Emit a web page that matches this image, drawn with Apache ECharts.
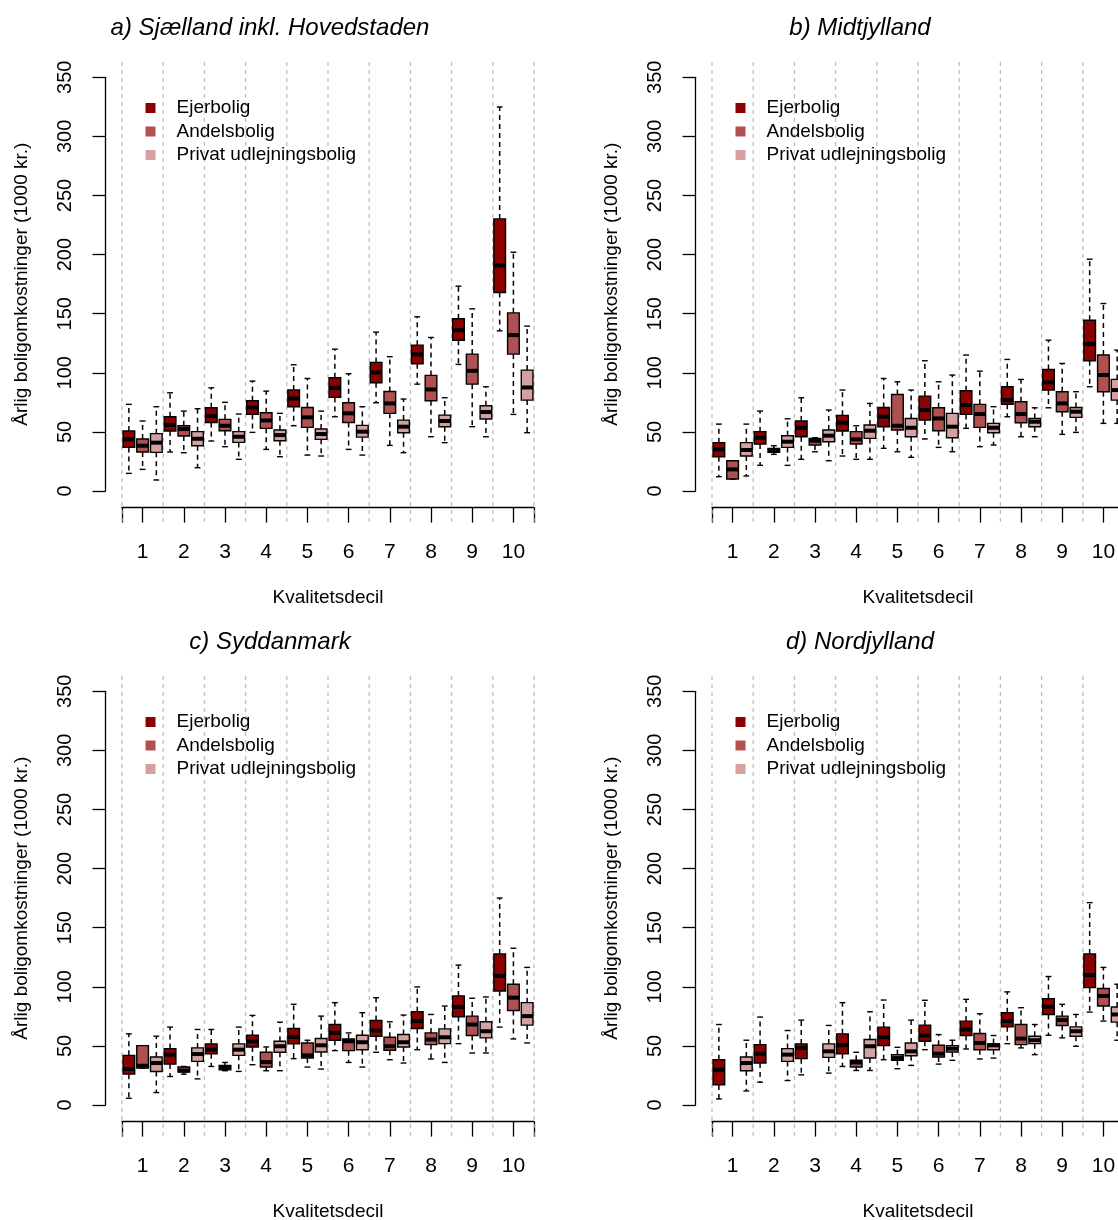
<!DOCTYPE html>
<html><head><meta charset="utf-8">
<script src="https://cdn.jsdelivr.net/npm/echarts@6/dist/echarts.min.js"></script>
<style>html,body{margin:0;padding:0;background:#fff}#c{width:1118px;height:1220px}</style>
</head><body><div id="c"></div>
<script>
// ---------- DATA ----------
const deciles = ['1','2','3','4','5','6','7','8','9','10'];
const housingTypes = ['Ejerbolig', 'Andelsbolig', 'Privat udlejningsbolig'];
const panelTitles = ['a) Sjælland inkl. Hovedstaden', 'b) Midtjylland', 'c) Syddanmark', 'd) Nordjylland'];
const yTickValues = [0, 50, 100, 150, 200, 250, 300, 350];
const xTitle = 'Kvalitetsdecil';
const yTitle = 'Årlig boligomkostninger (1000 kr.)';

// each entry: [lower whisker, Q1, median, Q3, upper whisker] per decile
const sjaellandEjer = [[14.9,36.9,43.7,50.7,73.3],[33.0,50.7,55.8,62.8,83.1],[42.3,58.0,63.4,70.4,87.3],[49.6,64.8,70.7,76.4,93.0],[55.2,71.3,78.3,85.4,106.8],[62.8,79.2,87.3,95.8,120.0],[74.7,91.6,100.3,108.8,134.4],[90.4,107.6,115.5,123.4,147.4],[107.1,127.6,136.1,145.7,173.3],[135.5,167.9,190.8,230.2,324.9]];
const sjaellandAndel = [[18.3,33.0,38.3,44.0,59.2],[32.4,46.5,52.4,55.2,67.6],[37.5,51.0,55.2,60.6,75.0],[35.2,53.0,59.7,66.2,84.5],[30.4,53.8,62.3,70.7,95.2],[35.2,58.0,65.7,74.7,99.2],[38.6,65.7,74.1,84.2,113.6],[45.9,76.4,85.9,97.8,129.9],[54.4,90.4,101.7,115.8,154.1],[64.8,115.8,131.9,150.7,202.0]];
const sjaellandPrivat = [[9.3,32.7,40.9,48.5,71.3],[19.7,38.3,44.2,50.2,69.6],[26.8,41.1,45.9,50.2,65.1],[29.0,42.5,47.3,51.6,65.7],[29.6,43.7,48.2,52.4,67.6],[30.4,45.6,50.2,55.5,71.3],[32.4,49.3,54.4,60.0,77.8],[40.9,54.4,59.2,64.2,78.9],[45.9,60.9,66.8,72.1,88.2],[49.3,76.9,87.6,102.3,139.5]];

const midtEjer = [[12.1,29.0,35.2,40.9,56.6],[21.7,39.7,45.1,50.2,67.6],[26.8,45.9,53.5,59.2,78.9],[29.6,50.7,57.8,64.0,85.4],[36.1,54.4,62.8,70.7,95.2],[44.0,60.0,68.5,80.3,110.2],[53.0,64.8,72.7,84.8,115.0],[62.8,73.3,76.9,88.2,111.3],[70.4,85.4,91.9,102.8,127.6],[88.2,110.2,124.3,144.5,196.1]];
const midtAndel = [[10.1,10.1,18.3,25.6,25.6],[31.0,32.7,34.1,36.1,38.3],[33.2,38.9,42.5,44.5,45.1],[26.8,39.7,43.7,50.2,55.2],[33.2,51.6,55.2,81.7,92.4],[36.9,51.0,61.4,70.4,92.4],[37.5,53.8,65.1,73.3,101.4],[45.9,57.8,65.1,75.5,94.4],[47.9,67.1,74.1,84.0,107.9],[57.2,84.0,98.1,115.0,158.6]];
const midtPrivat = [[12.7,29.6,34.7,40.9,56.6],[21.7,36.9,41.7,46.8,61.1],[25.6,41.7,46.8,51.6,68.5],[26.8,44.5,51.0,55.8,74.1],[28.5,45.9,53.5,61.4,85.4],[33.2,45.1,54.4,65.7,98.1],[38.9,49.3,53.5,57.2,71.3],[45.9,54.4,58.6,61.4,70.4],[49.6,62.3,67.1,70.7,84.0],[57.2,76.9,85.4,94.4,119.2]];

const sydEjer = [[5.7,26.1,30.4,42.0,60.2],[24.1,34.6,42.6,47.7,65.9],[32.6,43.4,46.8,51.7,63.9],[34.1,49.1,53.9,59.0,75.8],[39.2,51.7,57.6,64.7,85.2],[46.0,54.8,61.0,68.1,86.6],[44.6,58.2,63.0,71.5,90.8],[46.8,64.7,71.0,78.9,99.9],[51.9,74.7,82.9,92.3,118.4],[65.9,96.5,109.3,127.7,175.1]];
const sydAndel = [[31.2,31.2,33.2,50.2,50.2],[26.1,27.8,29.2,32.1,32.6],[29.0,29.8,31.8,33.5,36.0],[29.0,32.1,36.3,44.6,49.1],[32.1,39.7,42.0,52.5,54.8],[36.0,46.0,53.9,55.9,61.0],[38.3,46.3,49.7,57.3,70.4],[38.9,51.1,55.4,61.0,76.6],[44.0,58.8,68.1,75.2,90.3],[55.9,80.0,90.8,102.2,132.6]];
const sydPrivat = [[10.5,28.4,35.5,40.6,58.2],[22.1,36.9,43.1,48.3,63.9],[28.4,42.0,46.8,51.7,65.9],[29.0,44.6,49.7,53.9,70.1],[30.4,44.8,50.5,56.2,75.2],[32.1,46.8,53.1,59.0,78.1],[35.5,49.1,53.1,59.6,76.1],[36.0,51.9,57.3,64.4,83.7],[44.0,56.8,62.4,70.4,91.4],[52.5,67.6,75.2,86.6,116.4]];

const nordEjer = [[5.1,17.0,29.8,38.3,68.1],[19.3,35.5,43.4,51.1,74.4],[25.5,39.2,48.3,51.7,71.8],[32.6,43.4,50.5,60.2,86.6],[38.3,50.2,57.3,65.9,88.8],[46.8,53.9,58.8,67.6,88.6],[47.4,58.8,63.9,71.0,89.4],[51.9,66.1,71.0,78.1,95.7],[59.0,76.6,83.2,90.0,108.7],[78.6,99.3,109.9,127.7,171.2]];
const nordAndel = [null,null,null,[29.2,32.1,36.0,37.8,44.6],[30.7,37.8,39.7,42.6,48.8],[34.6,40.6,43.4,50.5,59.6],[38.9,46.8,52.5,60.5,77.2],[48.3,51.1,56.2,68.1,82.3],[56.8,67.3,71.8,75.2,85.2],[71.0,83.7,92.3,98.5,116.4]];
const nordPrivat = [[11.9,29.0,35.5,40.6,54.8],[20.7,36.9,42.6,47.7,63.0],[27.0,40.3,45.4,51.7,67.3],[29.2,39.7,49.7,55.4,78.9],[33.5,41.7,45.4,52.5,71.8],[37.8,44.8,47.7,50.2,54.8],[39.7,46.8,50.5,51.9,58.8],[42.6,51.9,54.8,58.2,68.1],[49.7,58.2,62.4,66.1,76.6],[54.8,70.1,76.6,82.9,102.2]];

const panelData = [
  [sjaellandEjer, sjaellandAndel, sjaellandPrivat],
  [midtEjer, midtAndel, midtPrivat],
  [sydEjer, sydAndel, sydPrivat],
  [nordEjer, nordAndel, nordPrivat]
];

// ---------- STYLE / LAYOUT ----------
const FONT = '"Liberation Sans", Arial, Helvetica, sans-serif';
const colors = ['#8B0000', '#B05050', '#D4A0A0'];
const panelOffsets = [[0,0],[590,0],[0,614],[590,614]];
const BOX_W = 0.283;

function boxRender(params, api) {
  const x = api.value(0);
  const pm = api.coord([x, api.value(3)]);
  const cx = pm[0];
  const lo = api.coord([x, api.value(1)])[1];
  const q1 = api.coord([x, api.value(2)])[1];
  const md = pm[1];
  const q3 = api.coord([x, api.value(4)])[1];
  const hi = api.coord([x, api.value(5)])[1];
  const w = api.size([BOX_W, 0])[0];
  const sw = w * 0.5;
  const fill = api.visual('color');
  const ls = {stroke:'#000', lineWidth:1.4};
  const ds = {stroke:'#000', lineWidth:1.5, lineDash:[5,4]};
  return {type:'group', children:[
    {type:'line', shape:{x1:cx,y1:q3,x2:cx,y2:hi}, style:ds},
    {type:'line', shape:{x1:cx,y1:q1,x2:cx,y2:lo}, style:ds},
    {type:'line', shape:{x1:cx-sw/2,y1:hi,x2:cx+sw/2,y2:hi}, style:ls},
    {type:'line', shape:{x1:cx-sw/2,y1:lo,x2:cx+sw/2,y2:lo}, style:ls},
    {type:'rect', shape:{x:cx-w/2, y:q3, width:w, height:q1-q3}, style:{fill:fill, stroke:'#000', lineWidth:1.4}},
    {type:'line', shape:{x1:cx-w/2, y1:md, x2:cx+w/2, y2:md}, style:{stroke:'#000', lineWidth:4}}
  ]};
}

function gridLineRender(params, api) {
  const x = api.value(0);
  const p1 = api.coord([x, 363]);
  const p2 = api.coord([x, -26]);
  return {type:'line', shape:{x1:p1[0], y1:p1[1], x2:p2[0], y2:p2[1]}, style:{stroke:'#BEBEBE', lineWidth:1.3, lineDash:[4,4]}};
}

const nDec = deciles.length;
const decPositions = deciles.map((d, i) => i + 1);
const boundaries = Array.from({length: nDec + 1}, (_, i) => i + 0.5);
const tickPositions = [0.5].concat(decPositions, [nDec + 0.5]);

const grid = [], xAxis = [], yAxis = [], series = [], legend = [], graphic = [];
panelOffsets.forEach(([px, py], i) => {
  grid.push({left:122+px, top:77.3+py, width:412, height:413.7, outerBoundsMode:'none', containLabel:false});
  xAxis.push({
    gridIndex:i, type:'value', min:0.5, max:nDec+0.5, offset:16.6,
    axisLine:{show:true, onZero:false, lineStyle:{color:'#000', width:1.3}},
    axisTick:{show:true, length:15, inside:false, customValues:tickPositions, lineStyle:{color:'#000', width:1.3}},
    axisLabel:{customValues:decPositions, formatter:v => deciles[Math.round(v)-1], fontSize:21, color:'#000', margin:34, fontFamily:FONT, hideOverlap:false},
    splitLine:{show:false},
    name:xTitle, nameLocation:'middle', nameGap:81,
    nameTextStyle:{fontSize:19, color:'#000', fontFamily:FONT}
  });
  yAxis.push({
    gridIndex:i, type:'value', min:0, max:350, interval:50, offset:16.5,
    axisLine:{show:true, onZero:false, lineStyle:{color:'#000', width:1.3}},
    axisTick:{show:true, length:13, inside:false, lineStyle:{color:'#000', width:1.3}},
    axisLabel:{rotate:90, fontSize:20, color:'#000', margin:30, fontFamily:FONT,
      formatter: v => (yTickValues.indexOf(v) >= 0 ? String(v) : '')},
    splitLine:{show:false},
    name:yTitle, nameLocation:'middle', nameRotate:90, nameGap:74,
    nameTextStyle:{fontSize:19, color:'#000', fontFamily:FONT}
  });
  series.push({
    type:'custom', xAxisIndex:i, yAxisIndex:i, clip:false, silent:true, z:1,
    data: boundaries.map(b => [b, 0]), encode:{x:0, y:1}, renderItem: gridLineRender
  });
  panelData[i].forEach((arr, t) => {
    const data = [];
    arr.forEach((v, d) => { if (v) data.push([d + 1 + (t - 1) / 3].concat(v)); });
    series.push({
      type:'custom', name:housingTypes[t], xAxisIndex:i, yAxisIndex:i, clip:false, z:3,
      itemStyle:{color:colors[t]},
      data:data, encode:{x:0, y:[1,2,3,4,5]}, renderItem: boxRender
    });
  });
  legend.push({
    data:housingTypes, orient:'vertical', left:145.5+px, top:98.5+py, padding:0,
    itemWidth:10, itemHeight:10, icon:'rect', itemGap:4.5, selectedMode:false,
    textStyle:{fontSize:19, lineHeight:19, color:'#000', fontFamily:FONT, padding:[0,0,0,16]}
  });
  graphic.push({
    type:'text', x:270+px, y:28.5+py, silent:true,
    style:{text:panelTitles[i], fontSize:24, fontStyle:'italic', fontFamily:FONT, fill:'#000', align:'center', verticalAlign:'middle'}
  });
});

const chart = echarts.init(document.getElementById('c'), null, {renderer:'canvas'});
chart.setOption({
  animation:false,
  backgroundColor:'#fff',
  grid, xAxis, yAxis, series, legend, graphic
});
</script>
</body></html>
